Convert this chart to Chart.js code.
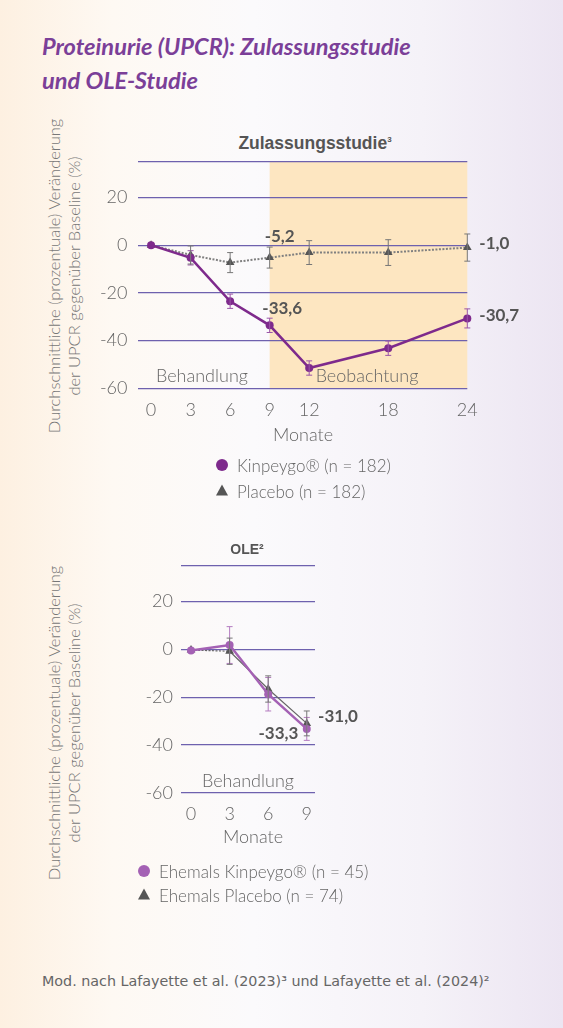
<!DOCTYPE html>
<html><head><meta charset="utf-8">
<script src="https://cdn.jsdelivr.net/npm/chart.js@4.4.0/dist/chart.umd.min.js"></script>
<style>
html,body{margin:0;padding:0;}
body{width:563px;height:1028px;position:relative;overflow:hidden;
 background:linear-gradient(90deg,#fdf0e1 0%,#fef9f3 20%,#fbfafc 45%,#f5f2f8 75%,#ece5f2 100%);}
.a{position:absolute;white-space:nowrap;}
.c{transform:translate(-50%,-50%);}
.l{transform:translate(0,-50%);}
#title{left:42px;top:29px;font:italic 700 23.6px Lato,sans-serif;color:#7b3f98;line-height:34px;}
.ytitle{width:380px;height:44px;line-height:22px;text-align:center;font:300 16.5px Lato,sans-serif;color:#777;transform:rotate(-90deg);}
.sub{font:700 17.5px "Liberation Sans",Arial,sans-serif;color:#555;}
.lab{font:300 18px Lato,sans-serif;color:#666;}
.leg{font:300 17px Lato,sans-serif;color:#666;}
.dot{width:12px;height:12px;border-radius:50%;}
.tri{width:0;height:0;border-left:6.5px solid transparent;border-right:6.5px solid transparent;border-bottom:11px solid #555;}
#foot{left:42px;top:981px;font:14.3px "DejaVu Sans",sans-serif;color:#666;}
canvas{position:absolute;left:0;}
</style></head><body>
<div id="title" class="a">Proteinurie (UPCR): Zulassungsstudie<br>und OLE-Studie</div>

<div class="a sub c" style="left:315px;top:143px;">Zulassungsstudie<sup style="font-size:8px;vertical-align:7px;">3</sup></div>
<div class="a ytitle" style="left:-124px;top:254px;">Durchschnittliche (prozentuale) Veränderung<br>der UPCR gegenüber Baseline (%)</div>
<canvas id="c1" width="563" height="430" style="top:0;"></canvas>
<div class="a lab c" style="left:202px;top:375px;">Behandlung</div>
<div class="a lab c" style="left:367px;top:375px;">Beobachtung</div>
<div class="a lab c" style="left:303px;top:434px;">Monate</div>
<div class="a dot c" style="left:222px;top:465px;background:#7e2a8c;"></div>
<div class="a leg l" style="left:237px;top:465px;">Kinpeygo® (n = 182)</div>
<div class="a tri c" style="left:222px;top:490px;"></div>
<div class="a leg l" style="left:237px;top:491px;">Placebo (n = 182)</div>

<div class="a c" style="left:247px;top:549px;font:700 14px 'Liberation Sans',Arial,sans-serif;color:#555;">OLE²</div>
<div class="a ytitle" style="left:-124px;top:701px;">Durchschnittliche (prozentuale) Veränderung<br>der UPCR gegenüber Baseline (%)</div>
<canvas id="c2" width="563" height="360" style="top:500px;"></canvas>
<div class="a lab c" style="left:248px;top:780px;">Behandlung</div>
<div class="a lab c" style="left:253px;top:836px;">Monate</div>
<div class="a dot c" style="left:144px;top:871px;background:#a461b4;"></div>
<div class="a leg l" style="left:159px;top:871px;">Ehemals Kinpeygo® (n = 45)</div>
<div class="a tri c" style="left:144px;top:894px;"></div>
<div class="a leg l" style="left:159px;top:895px;">Ehemals Placebo (n = 74)</div>

<div id="foot" class="a l">Mod. nach Lafayette et al. (2023)³ und Lafayette et al. (2024)²</div>

<script>
// ---- Data: Zulassungsstudie ----
const months1 = [0, 3, 6, 9, 12, 18, 24];
const kinpeygo1 = [0, -5.3, -23.5, -33.6, -51.5, -43.2, -30.7];
const kinpeygo1Err = [0, 3, 3, 3, 3, 3, 4];
const placebo1 = [0, -4.1, -7.3, -5.2, -3.1, -3.1, -1.0];
const placebo1Err = [0, 3.8, 4.2, 4.4, 5, 5.4, 5.7];
const yTicks = [-60, -40, -20, 0, 20, 35];
const yTickLabels = ['-60', '-40', '-20', '0', '20', ''];
// ---- Data: OLE ----
const months2 = [0, 3, 6, 9];
const kinpeygo2 = [-0.5, 1.8, -18.8, -33.3];
const kinpeygo2Err = [0, 7.7, 7, 4.8];
const placebo2 = [-0.3, -0.8, -16.6, -31.0];
const placebo2Err = [0, 5.5, 5.5, 5.2];

const fmt = v => v.toFixed(1).replace('.', ',');
const pts = (xs, ys) => xs.map((x, i) => ({x, y: ys[i]}));

const shade = {
  id: 'shade',
  beforeDraw(chart, args, o) {
    if (!o.from && o.from !== 0) return;
    const {ctx, chartArea: a, scales: {x}} = chart;
    ctx.save(); ctx.fillStyle = o.color;
    const x1 = x.getPixelForValue(o.from), x2 = x.getPixelForValue(o.to);
    ctx.fillRect(x1, a.top, x2 - x1, a.bottom - a.top);
    ctx.restore();
  }
};
const errorBars = {
  id: 'errorBars',
  afterDatasetsDraw(chart) {
    const ctx = chart.ctx, ys = chart.scales.y;
    chart.data.datasets.forEach((ds, i) => {
      if (!ds.errors) return;
      const meta = chart.getDatasetMeta(i);
      ctx.save(); ctx.strokeStyle = ds.errorColor; ctx.lineWidth = 1;
      meta.data.forEach((pt, j) => {
        const e = ds.errors[j]; if (!e) return;
        const v = ds.data[j].y;
        const y1 = ys.getPixelForValue(v + e), y2 = ys.getPixelForValue(v - e);
        ctx.beginPath();
        ctx.moveTo(pt.x, y1); ctx.lineTo(pt.x, y2);
        ctx.moveTo(pt.x - 3, y1); ctx.lineTo(pt.x + 3, y1);
        ctx.moveTo(pt.x - 3, y2); ctx.lineTo(pt.x + 3, y2);
        ctx.stroke();
      });
      ctx.restore();
    });
  }
};
const valueLabels = {
  id: 'valueLabels',
  afterDatasetsDraw(chart, args, o) {
    if (!o.items) return;
    const ctx = chart.ctx;
    ctx.save();
    ctx.font = '700 17px Lato, sans-serif'; ctx.fillStyle = '#555'; ctx.textBaseline = 'middle';
    o.items.forEach(it => {
      const ds = chart.data.datasets[it.ds];
      const pt = chart.getDatasetMeta(it.ds).data[it.i];
      ctx.textAlign = it.align;
      ctx.fillText(fmt(ds.data[it.i].y), pt.x + it.dx, pt.y + it.dy);
    });
    ctx.restore();
  }
};

function makeChart(id, cfg) {
  const tickFont = {family: 'Lato', weight: '300', size: 18};
  return new Chart(document.getElementById(id), {
    type: 'line',
    data: {datasets: [
      {data: pts(cfg.months, cfg.kin), errors: cfg.kinErr, errorColor: cfg.kinErrColor,
       borderColor: cfg.kinColor, backgroundColor: cfg.kinColor, borderWidth: 2.5,
       pointBorderWidth: 0, pointRadius: 4, pointHoverRadius: 4, pointStyle: 'circle', clip: false, order: 1},
      {data: pts(cfg.months, cfg.pla), errors: cfg.plaErr, errorColor: '#777',
       borderColor: cfg.plaLine, backgroundColor: '#555', borderWidth: cfg.plaWidth,
       borderDash: cfg.plaDash, segment: cfg.plaSegment,
       pointBorderColor: '#555', pointBorderWidth: 0,
       pointRadius: 5, pointHoverRadius: 5, pointStyle: 'triangle', clip: false, order: 2}
    ]},
    options: {
      responsive: false, animation: false, devicePixelRatio: 1,
      layout: {padding: {top: cfg.padTop, right: cfg.padRight, left: 0, bottom: 0}},
      plugins: {legend: {display: false}, tooltip: {enabled: false},
        shade: cfg.shade || {}, valueLabels: {items: cfg.labels}},
      scales: {
        x: {type: 'linear', min: cfg.xmin, max: cfg.xmax,
          afterBuildTicks: s => { s.ticks = cfg.months.map(v => ({value: v})); },
          afterFit: s => { s.height = cfg.xH; },
          grid: {display: false}, border: {display: false},
          ticks: {font: tickFont, color: '#666', padding: 3, maxRotation: 0, autoSkip: false}},
        y: {min: -60, max: 35,
          afterBuildTicks: s => { s.ticks = yTicks.map(v => ({value: v})); },
          afterFit: s => { s.width = cfg.yW; },
          grid: {color: '#6e61ae', lineWidth: 1.2, drawTicks: false}, border: {display: false},
          ticks: {font: tickFont, color: '#666', padding: cfg.yPad,
            callback: (v) => yTickLabels[yTicks.indexOf(v)] ?? ''}}
      }
    },
    plugins: [shade, errorBars, valueLabels]
  });
}

makeChart('c1', {
  months: months1, kin: kinpeygo1, kinErr: kinpeygo1Err, pla: placebo1, plaErr: placebo1Err,
  kinColor: '#7e2a8c', kinErrColor: '#9b55a8', plaLine: '#808080', plaWidth: 2, plaDash: [2, 1.5],
  padTop: 161.7, padRight: 95.7, xH: 41.7, yW: 137.5, yPad: 10, xmin: -1.03, xmax: 24,
  shade: {from: 9, to: 24, color: '#fde6c1'},
  labels: [
    {ds: 1, i: 3, dx: 10, dy: -21, align: 'center'},
    {ds: 0, i: 3, dx: 12.6, dy: -17, align: 'center'},
    {ds: 1, i: 6, dx: 12, dy: -4.4, align: 'left'},
    {ds: 0, i: 6, dx: 12, dy: -2.5, align: 'left'}
  ]
});
makeChart('c2', {
  months: months2, kin: kinpeygo2, kinErr: kinpeygo2Err, pla: placebo2, plaErr: placebo2Err,
  kinColor: '#a461b4', kinErrColor: '#b47cc0', plaLine: '#666', plaWidth: 1.2, plaDash: [],
  plaSegment: {borderDash: c => c.p0DataIndex === 0 ? [2, 1.5] : undefined},
  padTop: 65.7, padRight: 248, xH: 67.3, yW: 181, yPad: 8, xmin: -0.78, xmax: 9.64,
  labels: [
    {ds: 1, i: 3, dx: 11.3, dy: -7, align: 'left'},
    {ds: 0, i: 3, dx: -8.4, dy: 4.3, align: 'right'}
  ]
});
</script>
</body></html>
